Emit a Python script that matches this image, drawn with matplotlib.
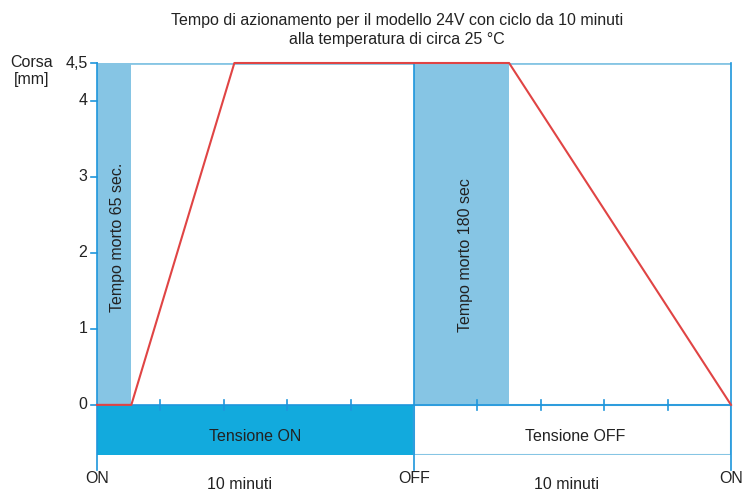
import matplotlib.pyplot as plt

plt.rcParams['font.family'] = ['Liberation Sans', 'DejaVu Sans']

# stroke profile (seconds, mm)
time_s = [0, 65, 260, 780, 1200]
stroke_mm = [0, 0, 4.5, 4.5, 0]

# dead time bands: (start, width, label, label x, label y)
dead_bands = [(0, 65, "Tempo morto 65 sec.", 38, 2.2),
              (600, 180, "Tempo morto 180 sec", 697, 1.97)]

y_ticks = [0, 1, 2, 3, 4, 4.5]
y_labels = ["0", "1", "2", "3", "4", "4,5"]
minor_x = [120, 240, 360, 480, 720, 840, 960, 1080]
cycle_labels = [(0, "ON"), (600, "OFF"), (1200, "ON")]

blue = "#1E96DC"
light = "#86C5E4"
dark_band = "#12AADD"
red = "#E04444"
txt = "#222222"
fs = 11.5

fig = plt.figure(figsize=(7.43, 4.92), dpi=100)
ax = fig.add_axes([97 / 743, 1 - 455 / 492, 634 / 743, 392 / 492])
ax.set_xlim(0, 1200)
ax.set_ylim(-0.66, 4.5)
ax.axis("off")

# dead time bands
for x0, w, lab, lx, ly in dead_bands:
    ax.add_patch(plt.Rectangle((x0, 0), w, 4.5, color=light, lw=0, zorder=1))
    ax.text(lx, ly, lab, rotation=90, ha="center", va="center",
            fontsize=fs, color=txt, zorder=3)

# voltage bars
ax.add_patch(plt.Rectangle((0, -0.66), 600, 0.66, color=dark_band, lw=0, zorder=1))
ax.add_patch(plt.Rectangle((600, -0.66), 600, 0.66, facecolor="white",
                           edgecolor=light, lw=1.5, zorder=1))
ax.text(300, -0.41, "Tensione ON", ha="center", va="center", fontsize=fs, color=txt)
ax.text(905, -0.41, "Tensione OFF", ha="center", va="center", fontsize=fs, color=txt)

# frame lines
ax.plot([0, 1200], [4.5, 4.5], color=light, lw=2, zorder=2)
ax.plot([0, 1200], [0, 0], color=blue, lw=1.2, zorder=2)
for xv in [0, 600, 1200]:
    ax.plot([xv, xv], [4.5, -0.86], color=blue, lw=1.2, zorder=2, clip_on=False)
for xv in minor_x:
    ax.plot([xv, xv], [-0.07, 0.07], color=blue, lw=1.2, zorder=2)

# y ticks
for yv, lab in zip(y_ticks, y_labels):
    ax.plot([-12, 0], [yv, yv], color=blue, lw=1.2, clip_on=False)
    ax.text(-18, yv, lab, ha="right", va="center", fontsize=fs, color=txt)

# stroke line
ax.plot(time_s, stroke_mm, color=red, lw=1.5, zorder=4, clip_on=False)

# cycle labels
for xv, lab in cycle_labels:
    ax.text(xv, -0.97, lab, ha="center", va="center", fontsize=fs, color=txt)
ax.text(270, -1.05, "10 minuti", ha="center", va="center", fontsize=fs, color=txt)
ax.text(888, -1.05, "10 minuti", ha="center", va="center", fontsize=fs, color=txt)

fig.text(10 / 743, 1 - 71 / 492, "Corsa\n[mm]", ha="left", va="center",
         fontsize=fs, color=txt, multialignment="center")
fig.text(397 / 743, 1 - 30 / 492,
         "Tempo di azionamento per il modello 24V con ciclo da 10 minuti\n"
         "alla temperatura di circa 25 °C", ha="center", va="center",
         fontsize=fs, color=txt, linespacing=1.4)

fig.savefig("out.png", dpi=100)
